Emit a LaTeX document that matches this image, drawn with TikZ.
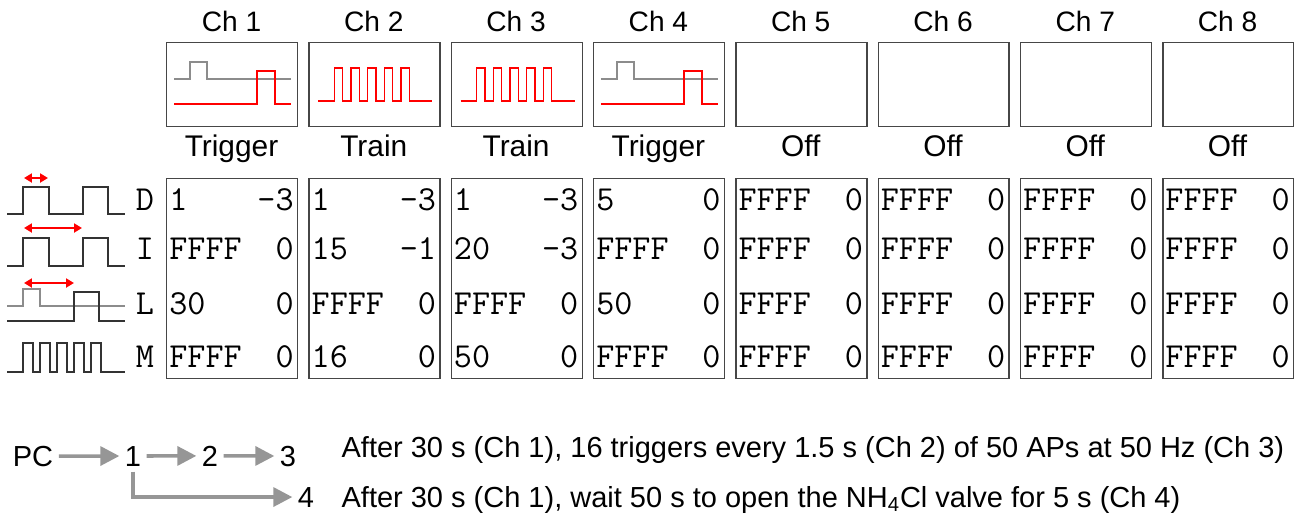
\documentclass[tikz,border=0pt]{standalone}
\usepackage{fontspec}
\setmainfont{Liberation Sans}
\usetikzlibrary{arrows.meta}

\definecolor{boxgray}{RGB}{70,70,70}
\definecolor{wavegray}{RGB}{140,140,140}
\definecolor{flowgray}{RGB}{150,150,150}

\begin{document}
\begin{tikzpicture}[x=0.02cm, y=-0.02cm,
    chbox/.style={draw=boxgray, line width=0.8pt, minimum width=2.62cm, minimum height=1.68cm, inner sep=0pt, anchor=north west},
    tabbox/.style={chbox, minimum height=4cm},
    head/.style={font=\fontsize{16}{18}\selectfont, anchor=base},
    mode/.style={font=\fontsize{17}{18}\selectfont, anchor=base},
    val/.style={font=\ttfamily\fontsize{20}{20}\selectfont, inner sep=0pt},
    redwave/.style={red, line width=0.8pt},
    graywave/.style={wavegray, line width=0.8pt},
    blackwave/.style={black!80, line width=0.8pt},
    redspan/.style={red, line width=1.2pt, {Triangle[length=0.16cm,width=0.18cm]}-{Triangle[length=0.16cm,width=0.18cm]}},
    flowtext/.style={font=\fontsize{16.5}{18}\selectfont, inner sep=3pt, anchor=base},
    flow/.style={flowgray, line width=2pt, -{Triangle[length=0.38cm,width=0.38cm]}}]
    \useasboundingbox (0,0) rectangle (1303,514);

    % Channels: header, waveform box, mode, table
    \foreach \i/\mode/\dl/\dr/\il/\ir/\ll/\lr/\ml/\mr in {
        1/Trigger/1/-3/FFFF/0/30/0/FFFF/0,
        2/Train/1/-3/15/-1/FFFF/0/16/0,
        3/Train/1/-3/20/-3/FFFF/0/50/0,
        4/Trigger/5/0/FFFF/0/50/0/FFFF/0,
        5/Off/FFFF/0/FFFF/0/FFFF/0/FFFF/0,
        6/Off/FFFF/0/FFFF/0/FFFF/0/FFFF/0,
        7/Off/FFFF/0/FFFF/0/FFFF/0/FFFF/0,
        8/Off/FFFF/0/FFFF/0/FFFF/0/FFFF/0} {
        \pgfmathsetmacro\lx{166+142.3*(\i-1)}
        \node[head] (ch\i) at (\lx+65.5,31) {Ch \i};
        \node[chbox] (wave\i) at (\lx,42) {};
        \node[mode] (mode\i) at (\lx+65.5,156) {\mode};
        \node[tabbox] (tab\i) at (\lx,178) {};
        \node[val, anchor=west] (dl\i) at (\lx+3,200) {\dl};
        \node[val, anchor=east] (dr\i) at (\lx+128,200) {\dr};
        \node[val, anchor=west] (il\i) at (\lx+3,249) {\il};
        \node[val, anchor=east] (ir\i) at (\lx+128,249) {\ir};
        \node[val, anchor=west] (ll\i) at (\lx+3,304) {\ll};
        \node[val, anchor=east] (lr\i) at (\lx+128,304) {\lr};
        \node[val, anchor=west] (ml\i) at (\lx+3,357) {\ml};
        \node[val, anchor=east] (mr\i) at (\lx+128,357) {\mr};
    }

    % Waveforms: triggers (Ch 1, Ch 4)
    \foreach \i in {1,4} {
        \begin{scope}[shift={(wave\i.north west)}]
            \draw[graywave] (8,37) -- (24,37) -- (24,20) -- (41,20) -- (41,37) -- (125,37);
            \draw[redwave] (8,62) -- (91,62) -- (91,29) -- (109,29) -- (109,62) -- (125,62);
        \end{scope}
    }

    % Waveforms: trains (Ch 2, Ch 3)
    \foreach \i in {2,3} {
        \begin{scope}[shift={(wave\i.north west)}]
            \draw[redwave] (10,59) \foreach \k in {0,...,4} {
                -- ({26+16.7*\k},59) -- ({26+16.7*\k},26) -- ({34.3+16.7*\k},26) -- ({34.3+16.7*\k},59)}
                -- (124,59);
        \end{scope}
    }

    % Row legend
    \node[val] (rowD) at (145,200) {D};
    \node[val] (rowI) at (145,249) {I};
    \node[val] (rowL) at (145,304) {L};
    \node[val] (rowM) at (145,357) {M};

    % D: delay
    \draw[blackwave] (7,214) -- (23,214) -- (23,187) -- (49,187) -- (49,214) -- (83,214) -- (83,187) -- (108,187) -- (108,214) -- (125,214);
    \draw[redspan] (24,178) -- (48,178);
    % I: interval
    \draw[blackwave] (7,266) -- (23,266) -- (23,238) -- (49,238) -- (49,266) -- (83,266) -- (83,238) -- (108,238) -- (108,266) -- (125,266);
    \draw[redspan] (24,228) -- (82,228);
    % L: latency
    \draw[graywave] (7,306) -- (23,306) -- (23,289) -- (40,289) -- (40,306) -- (125,306);
    \draw[blackwave] (7,321) -- (74,321) -- (74,292) -- (99,292) -- (99,321) -- (125,321);
    \draw[redspan] (24,283) -- (74,283);
    % M: multiplier
    \draw[blackwave] (7,372) \foreach \k in {0,...,4} {
        -- ({23+17*\k},372) -- ({23+17*\k},343) -- ({33+17*\k},343) -- ({33+17*\k},372)}
        -- (125,372);

    % Flow of triggers
    \node[flowtext] (pc) at (33,466) {PC};
    \node[flowtext] (n1) at (133,466) {1};
    \node[flowtext] (n2) at (210,466) {2};
    \node[flowtext] (n3) at (288,466) {3};
    \node[flowtext] (n4) at (306,507) {4};
    \draw[flow] (pc) -- (n1);
    \draw[flow] (n1) -- (n2);
    \draw[flow] (n2) -- (n3);
    \draw[flow] (n1.south) |- (n4.west);

    \node[flowtext, anchor=base west] (txt1) at (336,457) {After 30 s (Ch 1), 16 triggers every 1.5 s (Ch 2) of 50 APs at 50 Hz (Ch 3)};
    \node[flowtext, anchor=base west] (txt2) at (336,507) {After 30 s (Ch 1), wait 50 s to open the NH\textsubscript{4}Cl valve for 5 s (Ch 4)};
\end{tikzpicture}
\end{document}
